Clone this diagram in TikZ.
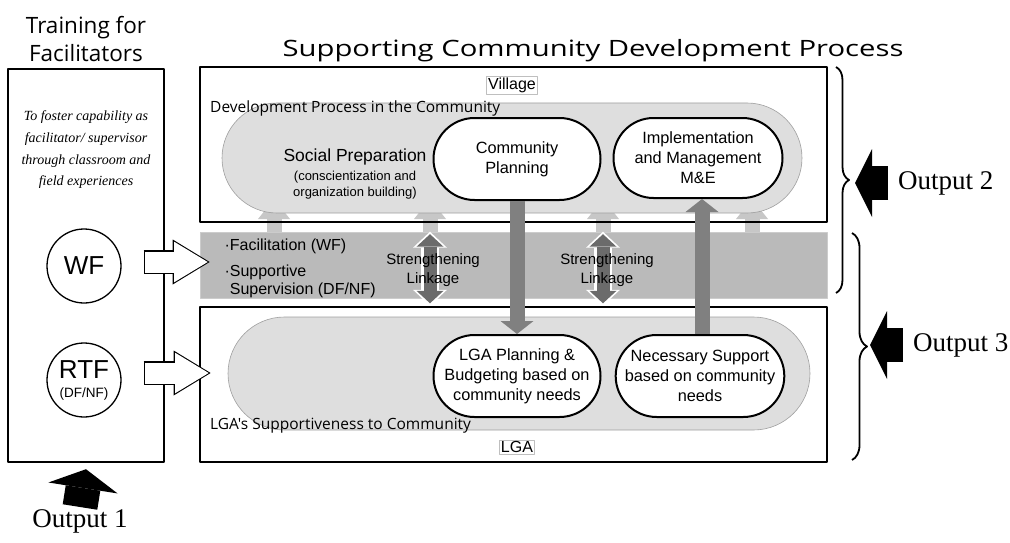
\documentclass[tikz,border=0pt]{standalone}
\usepackage{fontspec}
\setmainfont{Liberation Serif}
\setsansfont{Liberation Sans}
\newfontfamily\titlefont{Open Sans}
\newfontfamily\widetitlefont[FakeStretch=1.3]{Open Sans}
\usetikzlibrary{shapes.misc,arrows.meta,positioning,calc,decorations.pathreplacing}
\definecolor{bandgray}{gray}{0.73}
\definecolor{loopgray}{gray}{0.87}
\definecolor{liftgray}{gray}{0.78}
\definecolor{passgray}{gray}{0.50}
\definecolor{linkgray}{gray}{0.42}

\begin{document}
\begin{tikzpicture}[x=1pt,y=-1pt,line join=round,
    frame/.style={draw,line width=2.4pt,inner sep=0pt},
    loopbg/.style={rounded rectangle,fill=loopgray,draw=gray!75,line width=0.6pt,inner sep=0pt},
    stage/.style={rounded rectangle,draw,line width=2pt,fill=white,minimum height=82pt,inner sep=0pt,align=center,font=\sffamily\fontsize{16.3}{20}\selectfont},
    lvl/.style={draw=gray!50,line width=0.5pt,fill=white,inner sep=1.5pt,font=\sffamily\fontsize{16}{18}\selectfont},
    fac/.style={circle,draw,line width=1.3pt,minimum size=74pt,inner sep=0pt,align=center},
    hollow/.style={line width=24pt,-{Triangle[width=45pt,length=37pt,line width=0pt]}},
    hollowin/.style={white,line width=21pt,-{Triangle[width=40.5pt,length=33.5pt,line width=0pt]},shorten <=1.5pt,shorten >=2pt},
    liftarrow/.style={liftgray,line width=15pt,-{Triangle[width=32pt,length=20pt,line width=0pt]}},
    passarrow/.style={passgray,line width=15pt,-{Triangle[width=33pt,length=13pt,line width=0pt]}},
    linkout/.style={white,line width=18pt,{Triangle[width=34pt,length=16pt,line width=0pt]}-{Triangle[width=34pt,length=16pt,line width=0pt]}},
    linkin/.style={linkgray,line width=13pt,{Triangle[width=27pt,length=12.5pt,line width=0pt]}-{Triangle[width=27pt,length=12.5pt,line width=0pt]},shorten <=2.5pt,shorten >=2.5pt},
    blockarrow/.style={line width=34pt,-{Triangle[width=68pt,length=17pt,line width=0pt]}},
    outtext/.style={font=\fontsize{27}{27}\selectfont,inner sep=0pt},
    linktext/.style={align=center,font=\sffamily\fontsize{15}{19}\selectfont}]
\useasboundingbox (0,0) rectangle (1010,543);

% titles
\node[align=center,font=\titlefont\fontsize{22.5}{28}\selectfont] (traintitle) at (86,39) {Training for\\Facilitators};
\node[font=\widetitlefont\fontsize{22.5}{25}\selectfont] (proctitle) at (593,51) {Supporting Community Development Process};

% band and the small lifts into the village loop
\node[fill=bandgray,draw=gray!40,line width=0.6pt,minimum width=627pt,minimum height=66pt,inner sep=0pt] (band) at (513.5,265) {};
\foreach \x in {274,430,603,752}
  \draw[liftarrow] (band.north -| \x,0) -- (\x,199);

% frames
\node[frame,minimum width=156pt,minimum height=393pt] (train) at (86,265.5) {};
\node[frame,minimum width=627pt,minimum height=155pt] (village) at (513.5,144.5) {};
\node[frame,minimum width=627pt,minimum height=155pt] (lga) at (513.5,384.5) {};

% loops
\node[loopbg,minimum width=580pt,minimum height=110pt] (devloop) at (512,158) {};
\node[loopbg,minimum width=582pt,minimum height=113pt] (lgaloop) at (519,373.5) {};

\node[lvl] (villagelbl) at (512,85) {Village};
\node[lvl] (lgalbl) at (517,447) {LGA};
\node[anchor=base west,inner sep=0pt,font=\titlefont\fontsize{15.5}{18}\selectfont] (devlbl) at (210,113) {Development Process in the Community};
\node[anchor=base west,inner sep=0pt,font=\titlefont\fontsize{15.5}{18}\selectfont] (suplbl) at (210,429) {LGA's Supportiveness to Community};

% stages
\node[align=center,font=\sffamily\fontsize{17.5}{18}\selectfont] (socprep) at (355,174) {Social Preparation\\[1pt]{\fontsize{13}{15}\selectfont (conscientization and}\\[-2pt]{\fontsize{13}{15}\selectfont organization building)}};
\node[stage,minimum width=167pt] (cp) at (517,159) {Community\\Planning};
\node[stage,minimum width=169pt,minimum height=80pt] (im) at (698,158) {Implementation\\and Management\\M\&E};
\node[stage,minimum width=167pt] (lp) at (517,376) {LGA Planning \&\\Budgeting based on\\community needs};
\node[stage,minimum width=168pt] (ns) at (700,376) {Necessary Support\\based on community\\needs};

\draw[passarrow] (cp.south) -- (lp.north);
\draw[passarrow] (ns.north -| 702,0) -- (im.south -| 702,0);

% strengthening linkage
\foreach \x in {430,603} {
  \draw[linkout] (band.north -| \x,0) -- (lga.north -| \x,0);
  \draw[linkin] (band.north -| \x,0) -- (lga.north -| \x,0);
}
\node[linktext] (link1) at (433,270) {Strengthening\\Linkage};
\node[linktext] (link2) at (607,270) {Strengthening\\Linkage};
\node[anchor=west,align=left,font=\sffamily\fontsize{16}{18}\selectfont] (bandtxt) at (221,268) {·Facilitation (WF)\\[8pt]·Supportive\\\hphantom{·}Supervision (DF/NF)};

% facilitators
\node[align=center,font=\itshape\fontsize{14}{21.7}\selectfont] (aim) at (86,150) {To foster capability as\\facilitator/ supervisor\\through classroom and\\field experiences};
\node[fac,font=\sffamily\fontsize{26}{26}\selectfont] (wf) at (84,266) {WF};
\node[fac,font=\sffamily\fontsize{26}{19}\selectfont] (rtf) at (84,380) {RTF\\{\fontsize{13.5}{14}\selectfont (DF/NF)}};
\draw[hollow] ($(wf.east)+(22,-4)$) -- ($(band.west)+(10,-3)$);
\draw[hollowin] ($(wf.east)+(22,-4)$) -- ($(band.west)+(10,-3)$);
\draw[hollow] ($(rtf.east)+(22,-7)$) -- ++(67,0);
\draw[hollowin] ($(rtf.east)+(22,-7)$) -- ++(67,0);

% outputs
\draw[decorate,decoration={brace,amplitude=13pt},line width=1.8pt] (836,67) -- (836,293);
\draw[decorate,decoration={brace,amplitude=15pt},line width=1.8pt] (852,233) -- (852,460);
\node[outtext,anchor=west] (out2) at (898,183) {Output 2};
\node[outtext,anchor=west] (out3) at (913,345) {Output 3};
\node[outtext] (out1) at (80,521) {Output 1};
\coordinate (b2tip) at (855,183);
\coordinate (b3tip) at (870,345);
\coordinate (o1base) at (80,507);
\draw[blockarrow] ($(out2.west)+(-10,0)$) -- (b2tip);
\draw[blockarrow] ($(out3.west)+(-10,0)$) -- (b3tip);
\draw[blockarrow,line width=35pt,-{Triangle[width=70pt,length=19pt,line width=0pt]}] (o1base) -- ($(train.south)+(0,6)$);
\end{tikzpicture}
\end{document}
